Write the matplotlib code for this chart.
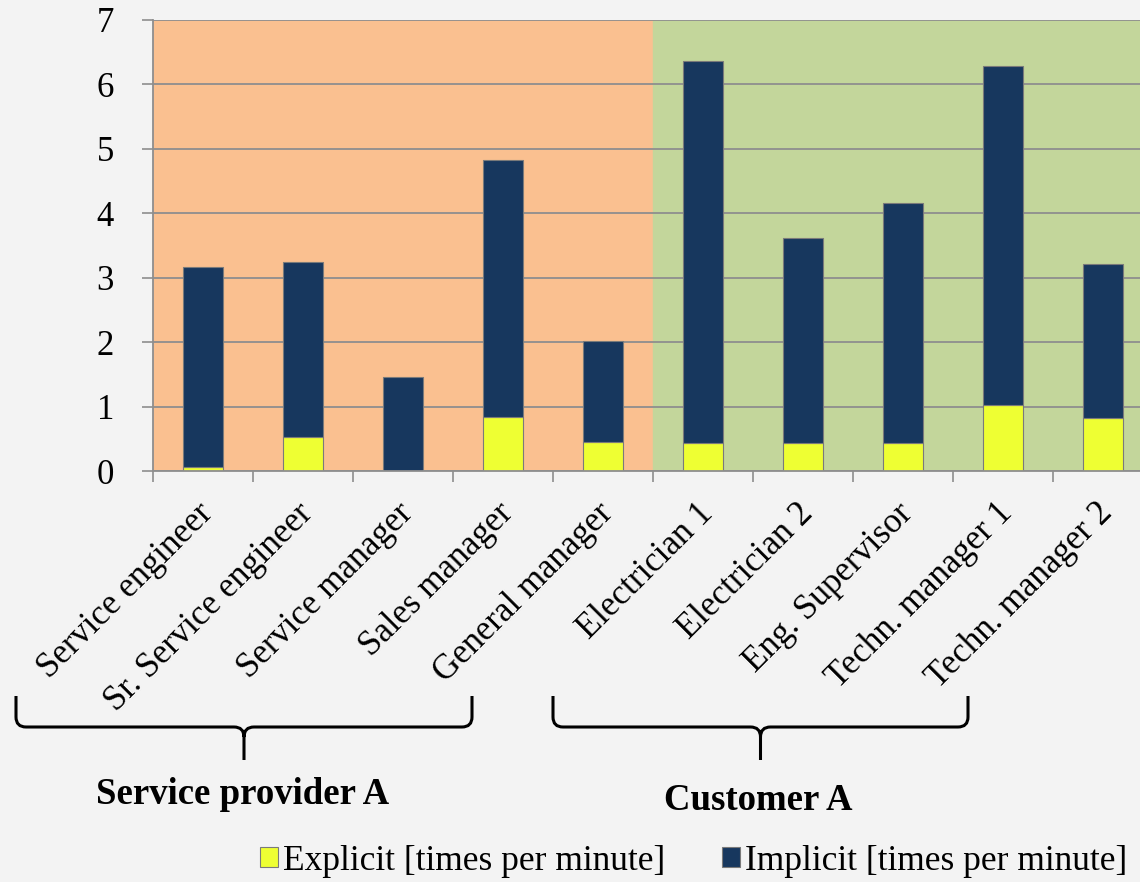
import numpy as np
import matplotlib
matplotlib.use("Agg")
import matplotlib.pyplot as plt
import matplotlib.transforms as mtrans
from matplotlib.path import Path
from matplotlib.patches import PathPatch

plt.rcParams['font.family'] = ['Liberation Serif', 'DejaVu Serif']

# roles and measured rates
roles = ['Service engineer', 'Sr. Service engineer', 'Service manager', 'Sales manager',
         'General manager', 'Electrician 1', 'Electrician 2', 'Eng. Supervisor',
         'Techn. manager 1', 'Techn. manager 2']
explicit = [0.06, 0.53, 0.0, 0.84, 0.45, 0.43, 0.43, 0.43, 1.02, 0.82]
implicit = [3.10, 2.71, 1.46, 3.99, 1.56, 5.93, 3.18, 3.73, 5.26, 2.40]
groups = ['Service provider A', 'Customer A']
group_size = [5, 5]

ORANGE = '#fac090'
GREEN = '#c3d69b'
YELLOW = '#eeff33'
NAVY = '#17375e'
GRID = '#8e8e8e'

W, H = 1140, 882
fig = plt.figure(figsize=(W / 100, H / 100), dpi=100)
fig.patch.set_facecolor('#f3f3f3')

def fx(px):
    return px / W

def fy(py):
    return 1 - py / H

ax = fig.add_axes([fx(153), fy(471), fx(1000), (471 - 20) / H])
ax.set_facecolor('none')

x = np.arange(len(roles))
ax.axvspan(-0.5, group_size[0] - 0.5, color=ORANGE, zorder=0)
ax.axvspan(group_size[0] - 0.5, len(roles) - 0.5, color=GREEN, zorder=0)

ax.bar(x, explicit, width=0.4, color=YELLOW, edgecolor='#7a7a7a', linewidth=0.8,
       label='Explicit [times per minute]', zorder=3)
ax.bar(x, implicit, width=0.4, bottom=explicit, color=NAVY, edgecolor='#7a7a7a',
       linewidth=0.8, label='Implicit [times per minute]', zorder=3)

ax.set_xlim(-0.5, len(roles) - 0.5)
ax.set_ylim(0, 7)
ax.set_yticks(range(8))
ax.yaxis.grid(True, color=GRID, linewidth=1.3, zorder=1)
ax.set_axisbelow(False)

for s in ['top', 'right']:
    ax.spines[s].set_visible(False)
for s in ['left', 'bottom']:
    ax.spines[s].set_color(GRID)
    ax.spines[s].set_linewidth(1.3)
    ax.spines[s].set_zorder(4)

ax.tick_params(axis='y', direction='out', length=8, color=GRID, width=1.2,
               labelsize=25, pad=20)
ax.set_xticks(x)
ax.set_xticks(np.arange(-0.5, len(roles)), minor=True)
ax.tick_params(axis='x', which='major', length=0, pad=27)
ax.tick_params(axis='x', which='minor', direction='out', length=8, color=GRID, width=1.2)

# rotated role names, shifted a little right of the bar centre
offset = mtrans.ScaledTranslation(5 / 100, 0, fig.dpi_scale_trans)
ax.set_xticklabels(roles, rotation=45, ha='right', va='center', rotation_mode='anchor',
                   fontsize=25)
for lbl in ax.get_xticklabels():
    lbl.set_transform(lbl.get_transform() + offset)

# curly braces under each group
def brace(x0, x1, y_top, y_mid, y_tip):
    xm = (x0 + x1) / 2
    r = 10
    verts = [
        (x0, y_top), (x0, y_mid - r), (x0, y_mid), (x0 + r, y_mid),
        (xm - r, y_mid), (xm, y_mid), (xm, y_mid + r), (xm, y_tip),
        (xm, y_mid + r), (xm, y_mid), (xm + r, y_mid),
        (x1 - r, y_mid), (x1, y_mid), (x1, y_mid - r), (x1, y_top),
    ]
    codes = [Path.MOVETO, Path.LINETO, Path.CURVE3, Path.CURVE3,
             Path.LINETO, Path.CURVE3, Path.CURVE3, Path.LINETO,
             Path.MOVETO, Path.CURVE3, Path.CURVE3,
             Path.LINETO, Path.CURVE3, Path.CURVE3, Path.LINETO]
    pts = [(fx(a), fy(b)) for a, b in verts]
    fig.patches.append(PathPatch(Path(pts, codes), transform=fig.transFigure,
                                 fill=False, lw=2.2, color='black'))

brace(16, 472, 696, 727, 760)
brace(553, 968, 696, 727, 760)

fig.text(fx(243), fy(795), groups[0], ha='center', va='center', fontsize=26.5,
         fontweight='bold')
fig.text(fx(758), fy(800), groups[1], ha='center', va='center', fontsize=26.5,
         fontweight='bold')

# legend along the bottom
handles, labels = ax.get_legend_handles_labels()
leg = fig.legend(handles, labels, loc='center', bbox_to_anchor=(fx(694), fy(861)),
                 ncol=2, frameon=False, fontsize=25.5, handlelength=0.5,
                 handleheight=0.5, handletextpad=0.15, columnspacing=1.6,
                 borderpad=0, borderaxespad=0)

fig.savefig('out.png', dpi=100, facecolor=fig.get_facecolor())
